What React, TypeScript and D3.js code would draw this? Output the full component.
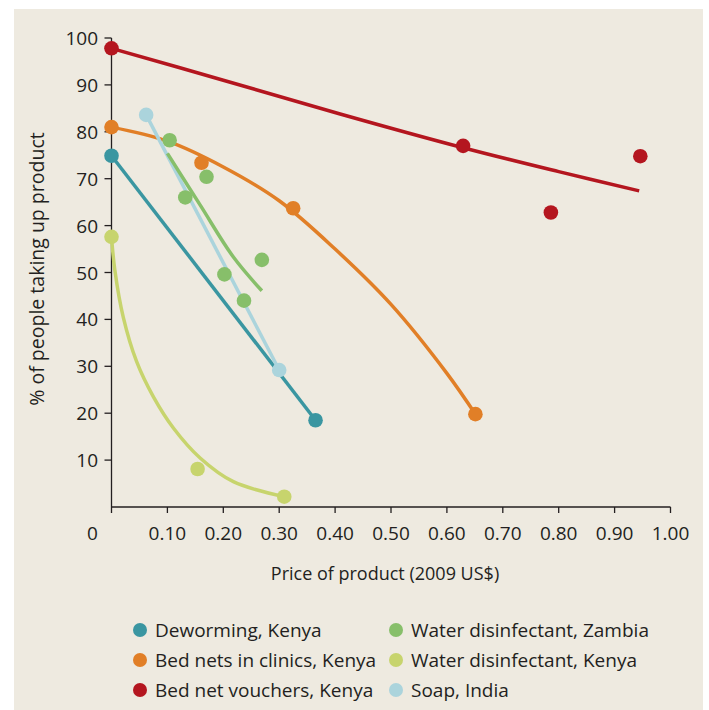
import React from "react";
import * as d3 from "d3";

const xTicks = [0, 0.1, 0.2, 0.3, 0.4, 0.5, 0.6, 0.7, 0.8, 0.9, 1.0];
const xTickLabels = ["0", "0.10", "0.20", "0.30", "0.40", "0.50", "0.60", "0.70", "0.80", "0.90", "1.00"];
const yTicks = [10, 20, 30, 40, 50, 60, 70, 80, 90, 100];

const seriesNames = [
  "Deworming, Kenya",
  "Bed nets in clinics, Kenya",
  "Bed net vouchers, Kenya",
  "Water disinfectant, Zambia",
  "Water disinfectant, Kenya",
  "Soap, India",
];
const seriesColors = ["#3a96a1", "#e17f27", "#b4161f", "#87bf6a", "#c7d46d", "#abd4dc"];

// observed points [price, % taking up]
const dewormingPts: [number, number][] = [[0, 74.9], [0.365, 18.5]];
const bedClinicPts: [number, number][] = [[0, 81.0], [0.161, 73.4], [0.325, 63.7], [0.651, 19.8]];
const bedVoucherPts: [number, number][] = [[0, 97.8], [0.629, 77.0], [0.786, 62.8], [0.946, 74.8]];
const zambiaPts: [number, number][] = [[0.104, 78.2], [0.132, 66.0], [0.17, 70.4], [0.202, 49.6], [0.237, 44.0], [0.269, 52.7]];
const kenyaWaterPts: [number, number][] = [[0, 57.6], [0.154, 8.1], [0.309, 2.2]];
const soapPts: [number, number][] = [[0.062, 83.6], [0.30, 29.2]];

// fitted curves
const dewormingFit: [number, number][] = [[0, 74.9], [0.365, 18.5]];
const bedClinicFit: [number, number][] = [[0, 81], [0.1, 78], [0.2, 72.5], [0.3, 65.3], [0.4, 55], [0.5, 43.2], [0.6, 28.5], [0.651, 19.8]];
const bedVoucherFit: [number, number][] = [[0, 97.8], [0.2, 91], [0.409, 83.8], [0.629, 76.6], [0.8, 71.5], [0.944, 67.4]];
const zambiaFit: [number, number][] = [[0.1, 75.4], [0.159, 64.3], [0.218, 53.3], [0.269, 46.1]];
const kenyaWaterFit: [number, number][] = [[0, 57.6], [0.006, 50.5], [0.021, 40.5], [0.045, 31], [0.075, 23.5], [0.111, 16.8], [0.159, 10.4], [0.218, 5.4], [0.309, 2.2]];
const soapFit: [number, number][] = [[0.062, 83.6], [0.30, 29.2]];

const pointsBySeries = [dewormingPts, bedClinicPts, bedVoucherPts, zambiaPts, kenyaWaterPts, soapPts];
const fitsBySeries = [dewormingFit, bedClinicFit, bedVoucherFit, zambiaFit, kenyaWaterFit, soapFit];
const lineOrder = [2, 1, 0, 4, 5, 3];

export default function App() {
  const W = 709, H = 710;
  const x = d3.scaleLinear().domain([0, 1]).range([111.5, 670.5]);
  const y = d3.scaleLinear().domain([0, 100]).range([507, 38]);
  const gen = d3.line<[number, number]>().x(d => x(d[0])).y(d => y(d[1])).curve(d3.curveCatmullRom.alpha(0.5));
  const font = "'Open Sans', sans-serif";
  const ink = "#231f20";
  const legendX = [140, 396];
  const legendY = [630, 660, 690];

  return (
    <svg width={W} height={H} style={{ position: "absolute", left: 0, top: 0 }} fontFamily={font}>
      <rect x={14} y={9} width={689} height={701} fill="#eeeae0" />
      {/* axes */}
      <line x1={x(0)} x2={x(1)} y1={y(0)} y2={y(0)} stroke={ink} strokeWidth={1.3} />
      <line x1={x(0)} x2={x(0)} y1={y(0) + 6} y2={y(100)} stroke={ink} strokeWidth={1.3} />
      {xTicks.map((t, i) => (
        <g key={"xt" + i}>
          {i > 0 && <line x1={x(t)} x2={x(t)} y1={y(0)} y2={y(0) + 6} stroke={ink} strokeWidth={1.3} />}
          <text x={i === 0 ? x(t) - 19 : x(t)} y={540} textAnchor="middle" fontSize={19} fill={ink}>
            {xTickLabels[i]}
          </text>
        </g>
      ))}
      {yTicks.map((t, i) => (
        <g key={"yt" + i}>
          <line x1={x(0) - 7} x2={x(0)} y1={y(t)} y2={y(t)} stroke={ink} strokeWidth={1.3} />
          <text x={98} y={y(t) + 7} textAnchor="end" fontSize={19} fill={ink}>{t}</text>
        </g>
      ))}
      <text x={385} y={580} textAnchor="middle" fontSize={18} fill={ink}>Price of product (2009 US$)</text>
      <text transform="translate(44,269) rotate(-90)" textAnchor="middle" fontSize={19.5} fill={ink}>
        % of people taking up product
      </text>
      {/* fitted lines */}
      {lineOrder.map(si => (
        <path key={"l" + si} d={gen(fitsBySeries[si]) || ""} fill="none" stroke={seriesColors[si]} strokeWidth={3.5} />
      ))}
      {/* points */}
      {lineOrder.map(si =>
        pointsBySeries[si].map((p, j) => (
          <circle key={"p" + si + "-" + j} cx={x(p[0])} cy={y(p[1])} r={7.3} fill={seriesColors[si]} />
        ))
      )}
      {/* legend */}
      {seriesNames.map((n, i) => {
        const col = Math.floor(i / 3), row = i % 3;
        return (
          <g key={"lg" + i}>
            <circle cx={legendX[col]} cy={legendY[row]} r={7} fill={seriesColors[i]} />
            <text x={legendX[col] + 15} y={legendY[row] + 7} fontSize={19} fill={ink}>{n}</text>
          </g>
        );
      })}
    </svg>
  );
}
